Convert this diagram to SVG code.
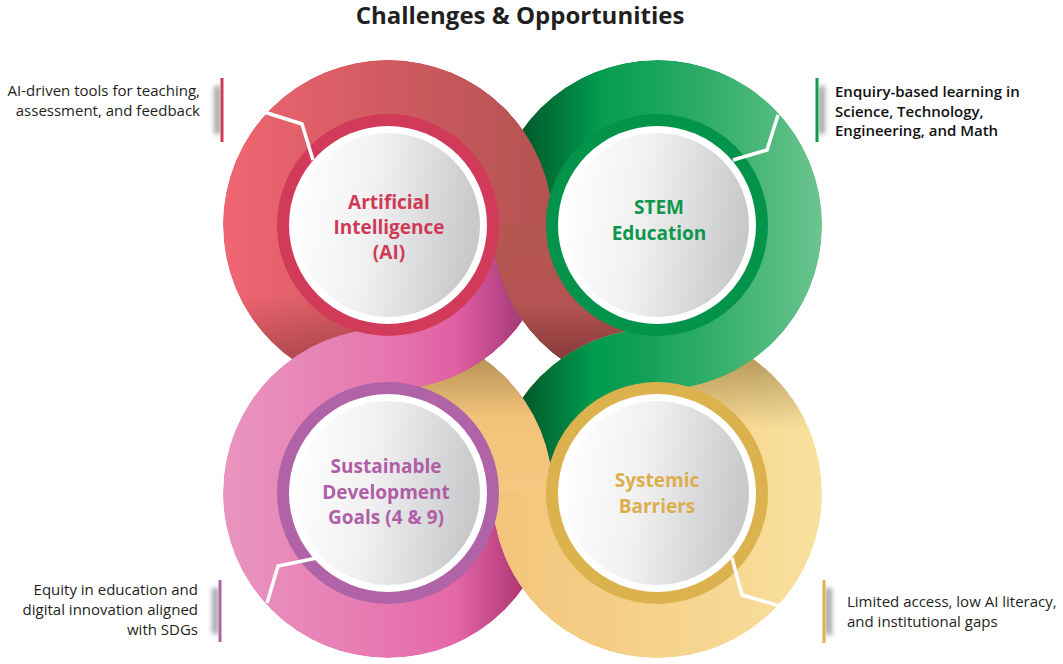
<svg xmlns="http://www.w3.org/2000/svg" xmlns:xlink="http://www.w3.org/1999/xlink" width="1063" height="664" viewBox="0 0 1063 664">
<defs>
<style>
.title{font-family:"Open Sans","Liberation Sans",sans-serif;font-weight:700;font-size:24px;fill:#231f20}
.lbl{font-family:"Open Sans","Liberation Sans",sans-serif;font-size:15px;fill:#231f20}
.lblb{font-family:"Open Sans","Liberation Sans",sans-serif;font-size:15px;font-weight:600;fill:#111}
.node{font-family:"Open Sans","Liberation Sans",sans-serif;font-weight:700;font-size:19px;text-anchor:middle}
.conn{fill:none;stroke:#fff;stroke-width:3.5;stroke-linejoin:miter}
.rim{fill:#fff}
.face{fill:url(#face)}
.shadow{fill:#6d6e70;opacity:.6;filter:url(#blur)}
</style>
<filter id="blur" x="-2" y="-1" width="5" height="3"><feGaussianBlur stdDeviation="2.5"/></filter>
<linearGradient id="face" x1="0" y1="0.1" x2="1" y2="0.25">
<stop offset="0" stop-color="#ffffff"/><stop offset="0.45" stop-color="#f1f1f2"/><stop offset="1" stop-color="#c8c9cb"/>
</linearGradient>
<linearGradient id="gTL" gradientUnits="userSpaceOnUse" x1="223" y1="0" x2="553" y2="0">
<stop offset="0" stop-color="#f06672"/><stop offset="0.5" stop-color="#d05a5f"/><stop offset="1" stop-color="#b25350"/>
</linearGradient>
<linearGradient id="gTR" gradientUnits="userSpaceOnUse" x1="492" y1="0" x2="822" y2="0">
<stop offset="0" stop-color="#007d3b"/><stop offset="0.3" stop-color="#009a4e"/><stop offset="0.65" stop-color="#2fad67"/><stop offset="1" stop-color="#6dc490"/>
</linearGradient>
<linearGradient id="gBR" gradientUnits="userSpaceOnUse" x1="492" y1="0" x2="822" y2="0">
<stop offset="0" stop-color="#f3c47b"/><stop offset="0.5" stop-color="#f5d28a"/><stop offset="1" stop-color="#f8e19e"/>
</linearGradient>
<linearGradient id="gBL" gradientUnits="userSpaceOnUse" x1="223" y1="0" x2="553" y2="0">
<stop offset="0" stop-color="#e995c0"/><stop offset="0.5" stop-color="#e677b0"/><stop offset="1" stop-color="#e3529a"/>
</linearGradient>
<linearGradient id="sTL" gradientUnits="userSpaceOnUse" x1="388" y1="0" x2="525" y2="0">
<stop offset="0" stop-color="#e677b0"/><stop offset="0.5" stop-color="#e05ea2"/><stop offset="1" stop-color="#a33878"/>
</linearGradient>
<linearGradient id="sTR" gradientUnits="userSpaceOnUse" x1="0" y1="240" x2="0" y2="372">
<stop offset="0" stop-color="#b65651"/><stop offset="0.5" stop-color="#b35251"/><stop offset="1" stop-color="#7c3636"/>
</linearGradient>
<linearGradient id="sBR" gradientUnits="userSpaceOnUse" x1="660" y1="0" x2="525" y2="0">
<stop offset="0" stop-color="#1aa15a"/><stop offset="0.5" stop-color="#009a4e"/><stop offset="1" stop-color="#005c2a"/>
</linearGradient>
<linearGradient id="sBL" gradientUnits="userSpaceOnUse" x1="0" y1="493" x2="0" y2="340">
<stop offset="0" stop-color="#f4c880"/><stop offset="0.5" stop-color="#f1c27a"/><stop offset="1" stop-color="#a8854e"/>
</linearGradient>
<linearGradient id="hTL" gradientUnits="userSpaceOnUse" x1="0" y1="295" x2="0" y2="388">
<stop offset="0" stop-color="#461212" stop-opacity="0"/><stop offset="1" stop-color="#461212" stop-opacity="0.45"/>
</linearGradient>
<linearGradient id="hTR" gradientUnits="userSpaceOnUse" x1="600" y1="0" x2="522" y2="0">
<stop offset="0" stop-color="#002810" stop-opacity="0"/><stop offset="1" stop-color="#002810" stop-opacity="0.45"/>
</linearGradient>
<linearGradient id="hBR" gradientUnits="userSpaceOnUse" x1="0" y1="428" x2="0" y2="358">
<stop offset="0" stop-color="#5a3c08" stop-opacity="0"/><stop offset="1" stop-color="#5a3c08" stop-opacity="0.4"/>
</linearGradient>
<linearGradient id="hBL" gradientUnits="userSpaceOnUse" x1="455" y1="0" x2="527" y2="0">
<stop offset="0" stop-color="#5a0030" stop-opacity="0"/><stop offset="1" stop-color="#5a0030" stop-opacity="0.4"/>
</linearGradient>
<clipPath id="cTL"><circle cx="388" cy="225" r="165"/></clipPath>
<clipPath id="cTR"><circle cx="657" cy="225" r="165"/></clipPath>
<clipPath id="cBR"><circle cx="657" cy="493" r="165"/></clipPath>
<clipPath id="cBL"><circle cx="388" cy="493" r="165"/></clipPath>
<clipPath id="kTop"><rect x="0" y="0" width="1063" height="225"/></clipPath>
<clipPath id="kRight"><rect x="657" y="0" width="406" height="664"/></clipPath>
<clipPath id="kBottom"><rect x="0" y="493" width="1063" height="171"/></clipPath>
<clipPath id="kCenter"><rect x="388" y="325" width="300" height="168"/></clipPath>
<clipPath id="shL1"><rect x="195" y="70" width="25.5" height="80"/></clipPath>
<clipPath id="shR1"><rect x="818.5" y="70" width="25" height="80"/></clipPath>
<clipPath id="shL2"><rect x="195" y="572" width="23.5" height="80"/></clipPath>
<clipPath id="shR2"><rect x="825.5" y="572" width="25" height="80"/></clipPath>
</defs>
<rect width="1063" height="664" fill="#fff"/>
<text class="title" x="520" y="24" text-anchor="middle">Challenges &amp; Opportunities</text>
<g id="bands">
<g id="bandTL" clip-path="url(#cTL)">
<circle cx="388" cy="225" r="165" fill="url(#gTL)"/>
<rect x="215" y="225" width="173" height="170" fill="url(#hTL)"/>
<path d="M388,225 L553,225 A165,165 0 0 1 388,390 Z" fill="url(#sTL)"/>
</g>
<g id="bandTR" clip-path="url(#cTR)">
<circle cx="657" cy="225" r="165" fill="url(#gTR)"/>
<rect x="485" y="55" width="130" height="172" fill="url(#hTR)"/>
<path d="M657,225 L657,390 A165,165 0 0 1 492,225 Z" fill="url(#sTR)"/>
</g>
<g id="bandBR" clip-path="url(#cBR)">
<circle cx="657" cy="493" r="165" fill="url(#gBR)"/>
<rect x="657" y="325" width="170" height="168" fill="url(#hBR)"/>
<path d="M657,493 L492,493 A165,165 0 0 1 657,328 Z" fill="url(#sBR)"/>
</g>
<g id="bandBL" clip-path="url(#cBL)">
<circle cx="388" cy="493" r="165" fill="url(#gBL)"/>
<rect x="388" y="493" width="170" height="170" fill="url(#hBL)"/>
<path d="M388,493 L388,328 A165,165 0 0 1 553,493 Z" fill="url(#sBL)"/>
</g>
<use xlink:href="#bandTL" href="#bandTL" clip-path="url(#kTop)"/>
<use xlink:href="#bandTR" href="#bandTR" clip-path="url(#kRight)"/>
<use xlink:href="#bandBR" href="#bandBR" clip-path="url(#kBottom)"/>
<use xlink:href="#bandTL" href="#bandTL" clip-path="url(#kCenter)"/>
</g>
<g id="node-ai">
<circle cx="388" cy="225" r="111" fill="#d13a58"/>
<circle class="rim" cx="388" cy="225" r="99"/>
<circle class="face" cx="388" cy="225" r="92"/>
<text class="node" fill="#cf3a57"><tspan x="389" y="209">Artificial</tspan><tspan x="389" y="234">Intelligence</tspan><tspan x="389" y="259">(AI)</tspan></text>
</g>
<g id="node-stem">
<circle cx="657" cy="225" r="111" fill="#03934a"/>
<circle class="rim" cx="657" cy="225" r="99"/>
<circle class="face" cx="657" cy="225" r="92"/>
<text class="node" fill="#0e974d"><tspan x="659" y="214">STEM</tspan><tspan x="659" y="240">Education</tspan></text>
</g>
<g id="node-sdg">
<circle cx="388" cy="493" r="111" fill="#b063a7"/>
<circle class="rim" cx="388" cy="493" r="99"/>
<circle class="face" cx="388" cy="493" r="92"/>
<text class="node" fill="#b05fa6"><tspan x="386" y="473">Sustainable</tspan><tspan x="386" y="499">Development</tspan><tspan x="386" y="524">Goals (4 &amp; 9)</tspan></text>
</g>
<g id="node-barriers">
<circle cx="657" cy="493" r="111" fill="#dcb24f"/>
<circle class="rim" cx="657" cy="493" r="99"/>
<circle class="face" cx="657" cy="493" r="92"/>
<text class="node" fill="#dcae4c"><tspan x="657" y="487">Systemic</tspan><tspan x="657" y="513">Barriers</tspan></text>
</g>
<g id="connectors">
<polyline class="conn" points="313,160 302,124 264,112"/>
<polyline class="conn" points="733,160 767,150 778,115"/>
<polyline class="conn" points="317,558 278,566 267,603"/>
<polyline class="conn" points="732,558 742,595 780,606"/>
</g>
<g id="label-ai">
<rect class="shadow" x="214" y="86" width="7" height="48" clip-path="url(#shL1)"/>
<rect x="220.5" y="78" width="3" height="64" fill="#d13a58"/>
<text class="lbl" text-anchor="end"><tspan x="200" y="96">AI-driven tools for teaching,</tspan><tspan x="200" y="116">assessment, and feedback</tspan></text>
</g>
<g id="label-stem">
<rect class="shadow" x="818" y="86" width="7" height="48" clip-path="url(#shR1)"/>
<rect x="815.5" y="78" width="3" height="64" fill="#0f9a4f"/>
<text class="lblb"><tspan x="835" y="97">Enquiry-based learning in</tspan><tspan x="835" y="117">Science, Technology,</tspan><tspan x="835" y="136">Engineering, and Math</tspan></text>
</g>
<g id="label-sdg">
<rect class="shadow" x="212" y="588" width="7" height="46" clip-path="url(#shL2)"/>
<rect x="218.5" y="580" width="3" height="62" fill="#b062a6"/>
<text class="lbl" text-anchor="end"><tspan x="198" y="595">Equity in education and</tspan><tspan x="198" y="615">digital innovation aligned</tspan><tspan x="198" y="635">with SDGs</tspan></text>
</g>
<g id="label-barriers">
<rect class="shadow" x="825" y="588" width="7" height="47" clip-path="url(#shR2)"/>
<rect x="822.5" y="580" width="3" height="63" fill="#dcb24f"/>
<text class="lbl"><tspan x="847" y="607">Limited access, low AI literacy,</tspan><tspan x="847" y="627">and institutional gaps</tspan></text>
</g>
</svg>
